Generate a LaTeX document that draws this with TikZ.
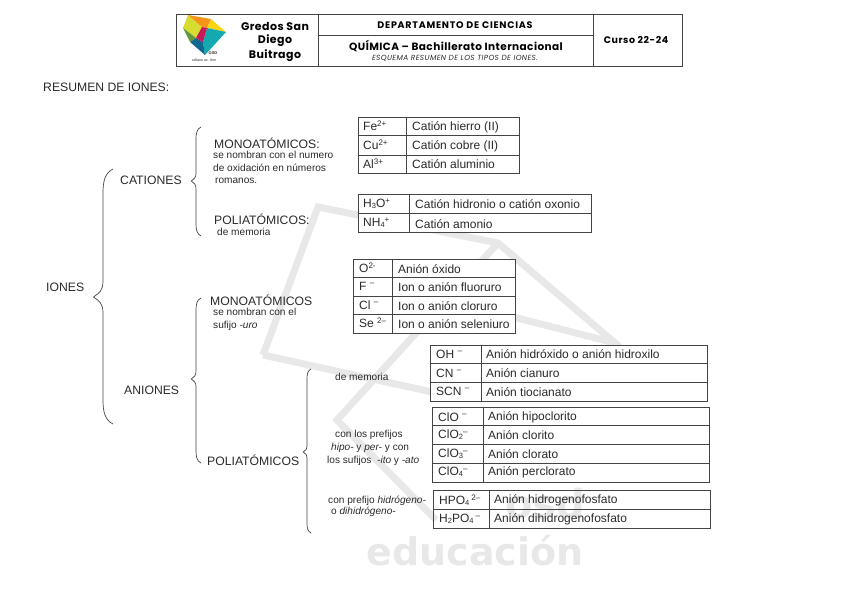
\documentclass[tikz,border=0pt]{standalone}
\usepackage{fontspec}
\setmainfont{Liberation Sans}
\newfontfamily\headfont{Poppins}
\newfontfamily\markfont{DejaVu Sans}
\definecolor{inkgrey}{HTML}{2A2A2A}
\definecolor{rulegrey}{HTML}{444444}
\definecolor{markgrey}{HTML}{E8E8E8}
\newcommand{\up}[1]{\textsuperscript{#1}}
\newcommand{\dn}[1]{\raisebox{-1pt}{\fontsize{7.5}{8}\selectfont #1}}
\newcommand{\spaced}[2]{\addfontfeature{LetterSpace=#1}\fontsize{#2}{#2}\selectfont}
\newcommand{\curly}[5]{%
\draw[rulegrey,line width=0.7pt] ({#1+#5},#2) .. controls ({#1+0.2*#5},{#2+0.4*#5}) and (#1,{#2+1.2*#5}) .. (#1,{#2+2.4*#5})
-- (#1,{#3-1.6*#5}) .. controls (#1,{#3-0.6*#5}) and ({#1-0.4*#5},{#3-0.4*#5}) .. ({#1-0.95*#5},#3)
.. controls ({#1-0.4*#5},{#3+0.4*#5}) and (#1,{#3+0.6*#5}) .. (#1,{#3+1.6*#5})
-- (#1,{#4-2.4*#5}) .. controls (#1,{#4-1.2*#5}) and ({#1+0.2*#5},{#4-0.4*#5}) .. ({#1+#5},#4);}
\tikzset{
title/.style={anchor=west,inner sep=0pt,text=inkgrey,font=\fontsize{12.2}{14}\selectfont},
note/.style={anchor=west,inner sep=0pt,text=inkgrey,font=\fontsize{10.1}{11}\selectfont},
cell/.style={anchor=west,inner sep=0pt,text=inkgrey,font=\fontsize{12}{14}\selectfont},
head/.style={inner sep=0pt,text=black,font=\headfont\bfseries\spaced{4}{11}},
gridline/.style={draw=rulegrey,line width=0.7pt},
markline/.style={draw=markgrey,line width=7pt,line join=miter}
}
\begin{document}
\begin{tikzpicture}[x=1pt,y=-1pt]
\useasboundingbox (0,0) rectangle (848,599);
% watermark
\draw[markline] (263,355) -- (318,207) -- (498,243) -- (615,343) -- (400,288);
\draw[markline] (263,355) -- (432,392);
\draw[markline] (498,243) -- (337,420) -- (436,520);
\node[inner sep=0pt,text=markgrey,font=\markfont\bfseries\fontsize{40}{40}\selectfont] (osd) at (545,504) {osd};
\node[inner sep=0pt,text=markgrey,font=\markfont\bfseries\fontsize{38}{40}\selectfont] (edu) at (475,551) {educación};
% header
\draw[rulegrey,line width=0.8pt] (176,14) rectangle (682,66);
\draw[rulegrey,line width=0.8pt] (318,14) -- (318,66);
\draw[rulegrey,line width=0.8pt] (593,14) -- (593,66);
\draw[rulegrey,line width=0.8pt] (318,35) -- (593,35);
\fill[color={rgb,255:red,214;green,220;blue,48}] (188,15) -- (202,27) -- (196,38) -- (183,28) -- cycle;
\fill[color={rgb,255:red,245;green,148;blue,24}] (188,15) -- (211,19) -- (207,28) -- (202,27) -- cycle;
\fill[color={rgb,255:red,252;green,212;blue,20}] (211,19) -- (226,32) -- (207,28) -- cycle;
\fill[color={rgb,255:red,20;green,168;blue,176}] (207,28) -- (226,32) -- (205,55) -- (203,42) -- cycle;
\fill[color={rgb,255:red,16;green,104;blue,144}] (196,38) -- (203,42) -- (205,55) -- (190,42) -- cycle;
\fill[color={rgb,255:red,100;green,152;blue,60}] (183,28) -- (196,38) -- (190,42) -- cycle;
\fill[color={rgb,255:red,200;green,24;blue,88}] (202,27) -- (207,28) -- (203,42) -- (196,38) -- cycle;
\node[inner sep=0pt,text=inkgrey,font=\bfseries\fontsize{4}{4}\selectfont] (logoA) at (213,53) {OSD};
\node[inner sep=0pt,text=inkgrey,font=\fontsize{3.6}{4}\selectfont] (logoB) at (204,60) {cellano ac. tkm};
\node[head] (gredos) at (275,26) {Gredos San};
\node[head] (diego) at (275,41) {Diego};
\node[head] (buitrago) at (275,56) {Buitrago};
\node[head,font=\headfont\bfseries\spaced{8}{9.5}] (depto) at (455,25) {DEPARTAMENTO DE CIENCIAS};
\node[head,font=\headfont\bfseries\spaced{4}{10.5}] (quimica) at (456,46) {QUÍMICA – Bachillerato Internacional};
\node[inner sep=0pt,text=inkgrey,font=\headfont\itshape\spaced{5}{7.4}] (esquema) at (455,58) {ESQUEMA RESUMEN DE LOS TIPOS DE IONES.};
\node[head,font=\headfont\bfseries\spaced{6}{9.5}] (curso) at (636,40) {Curso 22-24};
% left column
\node[title] (resumen) at (43,87) {RESUMEN DE IONES:};
\node[title] (iones) at (46,287) {IONES};
\node[title] (cationes) at (120,180) {CATIONES};
\node[title] (aniones) at (124,390) {ANIONES};
\curly{103}{169}{297}{424}{10}
\curly{196}{127}{181}{236}{5}
\curly{196}{298}{379}{463}{5}
\curly{307}{369}{452}{533}{4}
\node[title] (catMono) at (214,143) {MONOATÓMICOS:};
\node[note] (catMonoA) at (213,155) {se nombran con el numero};
\node[note] (catMonoB) at (213,168) {de oxidación en números};
\node[note] (catMonoC) at (215,181) {romanos.};
\node[title] (catPoli) at (214,219) {POLIATÓMICOS:};
\node[note] (catPoliA) at (217,232) {de memoria};
\node[title] (anMono) at (210,300) {MONOATÓMICOS};
\node[note] (anMonoA) at (213,312) {se nombran con el};
\node[note] (anMonoB) at (213,326) {sufijo \textit{-uro}};
\node[title] (anPoli) at (207,460) {POLIATÓMICOS};
\node[note] (memoria) at (335,377) {de memoria};
\node[note] (prefA) at (335,435) {con los prefijos};
\node[note] (prefB) at (331,448) {\textit{hipo-} y \textit{per-} y con};
\node[note] (prefC) at (327,461) {los sufijos \ \textit{-ito} y \textit{-ato}};
\node[note] (hidA) at (328,501) {con prefijo \textit{hidrógeno-}};
\node[note] (hidB) at (331,512) {o \textit{dihidrógeno-}};
% table monoatomic cations
\draw[gridline,fill=white] (358,117) rectangle (519,173);
\draw[gridline] (406,117) -- (406,173) (358,135) -- (519,135) (358,155) -- (519,155);
\node[cell] (fe) at (363,126) {Fe\up{2+}};
\node[cell] (cu) at (363,145) {Cu\up{2+}};
\node[cell] (al) at (363,164) {Al\up{3+}};
\node[cell] (feN) at (412,127) {Catión hierro (II)};
\node[cell] (cuN) at (412,146) {Catión cobre (II)};
\node[cell] (alN) at (412,164) {Catión aluminio};
% table polyatomic cations
\draw[gridline,fill=white] (358,194) rectangle (591,232);
\draw[gridline] (409,194) -- (409,232) (358,213) -- (591,213);
\node[cell] (hyd) at (363,204) {H\dn{3}O\up{+}};
\node[cell] (amm) at (363,223) {NH\dn{4}\up{+}};
\node[cell] (hydN) at (415,204) {Catión hidronio o catión oxonio};
\node[cell] (ammN) at (415,224) {Catión amonio};
% table monoatomic anions
\draw[gridline,fill=white] (353,259) rectangle (515,333);
\draw[gridline] (392,259) -- (392,333) (353,277) -- (515,277) (353,296) -- (515,296) (353,314) -- (515,314);
\node[cell] (oxy) at (359,268) {O\up{2-}};
\node[cell] (flu) at (359,286) {F \up{–}};
\node[cell] (chl) at (359,305) {Cl \up{–}};
\node[cell] (sel) at (359,323) {Se \up{2–}};
\node[cell] (oxyN) at (398,269) {Anión óxido};
\node[cell] (fluN) at (398,287) {Ion o anión fluoruro};
\node[cell] (chlN) at (398,306) {Ion o anión cloruro};
\node[cell] (selN) at (398,324) {Ion o anión seleniuro};
% table polyatomic by memory
\draw[gridline,fill=white] (430,345) rectangle (707,401);
\draw[gridline] (481,345) -- (481,401) (430,363) -- (707,363) (430,382) -- (707,382);
\node[cell] (oh) at (436,354) {OH \up{–}};
\node[cell] (cn) at (436,373) {CN \up{–}};
\node[cell] (scn) at (436,391) {SCN \up{–}};
\node[cell] (ohN) at (486,354) {Anión hidróxido o anión hidroxilo};
\node[cell] (cnN) at (486,373) {Anión cianuro};
\node[cell] (scnN) at (486,392) {Anión tiocianato};
% table oxoanions
\draw[gridline,fill=white] (432,407) rectangle (709,482);
\draw[gridline] (483,407) -- (483,482) (432,425) -- (709,425) (432,444) -- (709,444) (432,463) -- (709,463);
\node[cell] (clo) at (438,417) {ClO \up{–}};
\node[cell] (cloB) at (438,435) {ClO\dn{2}\up{–}};
\node[cell] (cloC) at (438,454) {ClO\dn{3}\up{–}};
\node[cell] (cloD) at (438,472) {ClO\dn{4}\up{–}};
\node[cell] (cloN) at (488,417) {Anión hipoclorito};
\node[cell] (cloBN) at (488,435) {Anión clorito};
\node[cell] (cloCN) at (488,454) {Anión clorato};
\node[cell] (cloDN) at (488,472) {Anión perclorato};
% table hydrogen anions
\draw[gridline] (433,490) rectangle (710,528);
\draw[gridline] (489,490) -- (489,528) (433,509) -- (710,509);
\node[cell] (hpo) at (439,500) {HPO\dn{4}\,\up{2–}};
\node[cell] (hhpo) at (439,519) {H\dn{2}PO\dn{4}\,\up{–}};
\node[cell] (hpoN) at (494,500) {Anión hidrogenofosfato};
\node[cell] (hhpoN) at (494,519) {Anión dihidrogenofosfato};
\end{tikzpicture}
\end{document}
